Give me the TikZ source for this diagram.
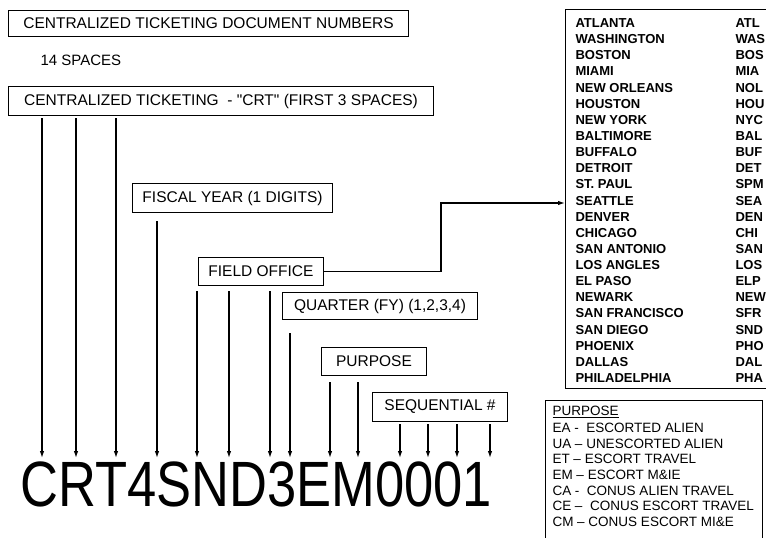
\documentclass[tikz,border=0pt]{standalone}
\usepackage{fontspec}
\setmainfont{Liberation Sans}
\usetikzlibrary{arrows.meta,calc}

\begin{document}
\begin{tikzpicture}[x=1pt,y=-1pt,line width=1pt,
  arr/.style={line width=1.2pt,-{Latex[length=7pt,width=4.5pt]}},
  tag/.style n args={2}{draw,rectangle,anchor=north west,minimum width=#1,minimum height=#2,inner sep=0pt,font=\fontsize{15.5}{18}\selectfont},
  city/.style={anchor=west,inner sep=0pt,font=\bfseries\fontsize{13}{15}\selectfont},
  code/.style={anchor=west,inner sep=0pt,font=\fontsize{13.5}{15}\selectfont}]
\useasboundingbox (0,0) rectangle (766,538);
\node[tag={400pt}{26pt}] (title) at (8,10) {CENTRALIZED TICKETING DOCUMENT NUMBERS};
\node[anchor=west,inner sep=0pt,font=\fontsize{15}{18}\selectfont] (spaces) at (40,60) {14 SPACES};
\node[tag={425pt}{29pt}] (crt) at (8,86) {CENTRALIZED TICKETING\ \ - \textquotedbl CRT\textquotedbl\ (FIRST 3 SPACES)};
\node[tag={200pt}{29pt}] (fisc) at (132,183) {FISCAL YEAR (1 DIGITS)};
\node[tag={125pt}{28pt}] (fld) at (198,257) {FIELD OFFICE};
\node[tag={195pt}{27pt}] (qtr) at (282,292) {QUARTER (FY) (1,2,3,4)};
\node[tag={105pt}{28pt}] (purp) at (321,347) {PURPOSE};
\node[tag={135pt}{29pt}] (seq) at (372,392) {SEQUENTIAL \#};
\node[anchor=south west,inner sep=0pt,font=\fontsize{52.5}{53}\selectfont] (docno) at (20,508)
   {\scalebox{1}[1.22]{CRT4SND3EM0001}};
\foreach \i/\x/\b/\g in %
{1/42/crt/2,2/76/crt/2,3/116/crt/2,4/157/fisc/8,5/197/fld/5,6/229/fld/5,7/270/fld/5,
 8/290/qtr/13,9/330/purp/6,10/358/purp/6,11/400/seq/2,12/428/seq/2,13/457/seq/2,14/490/seq/2} {
   \coordinate (a\i) at (\x,458);
   \draw[arr] ($(\b.south -| a\i)+(0,\g)$) -- (a\i);
}
\node[draw,rectangle,anchor=north west,minimum width=205pt,minimum height=379pt,inner sep=0pt] (cities) at (565,9) {};
\foreach \y/\1/\2 in %
{0/ATLANTA/ATL,1/WASHINGTON/WAS,2/BOSTON/BOS,3/MIAMI/MIA,4/NEW ORLEANS/NOL,5/HOUSTON/HOU,
 6/NEW YORK/NYC,7/BALTIMORE/BAL,8/BUFFALO/BUF,9/DETROIT/DET,10/ST. PAUL/SPM,11/SEATTLE/SEA,
 12/DENVER/DEN,13/CHICAGO/CHI,14/SAN ANTONIO/SAN,15/LOS ANGLES/LOS,16/EL PASO/ELP,17/NEWARK/NEW,
 18/SAN FRANCISCO/SFR,19/SAN DIEGO/SND,20/PHOENIX/PHO,21/DALLAS/DAL,22/PHILADELPHIA/PHA} {
   \node[city] (n\y) at (575,23+16.14*\y) {\1};
   \node[city] (k\y) at (735,23+16.14*\y) {\2};
}
\coordinate (fobend) at (441,203);
\draw[arr] (fld.east) -| (fobend) -- (fobend -| cities.west);
\node[draw,rectangle,anchor=north west,minimum width=217pt,minimum height=150pt,inner sep=0pt] (legend) at (545,400) {};
\foreach \y/\1 in %
{0/\underline{PURPOSE},1/EA -\ \ ESCORTED ALIEN,2/UA -- UNESCORTED ALIEN,3/ET -- ESCORT TRAVEL,
 4/EM -- ESCORT M\&IE,5/CA -\ \ CONUS ALIEN TRAVEL,6/CE --\ \ CONUS ESCORT TRAVEL,7/CM -- CONUS ESCORT MI\&E} {
   \node[code] (p\y) at (552,412+15.7*\y) {\1};
}
\end{tikzpicture}
\end{document}
